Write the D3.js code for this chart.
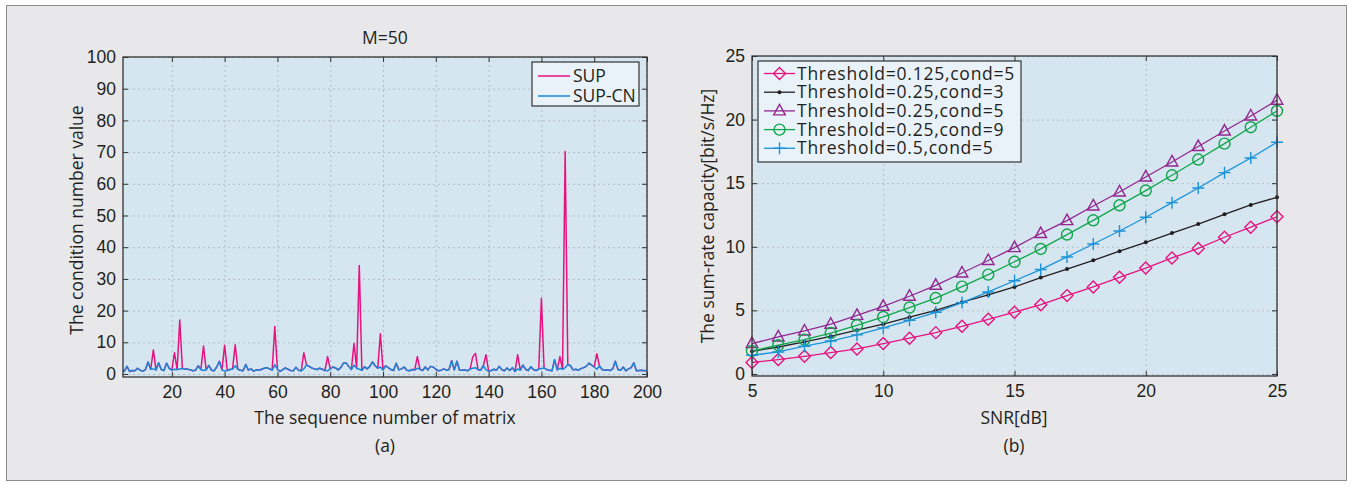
<!DOCTYPE html>
<html>
<head>
<meta charset="utf-8">
<script src="https://cdn.jsdelivr.net/npm/d3@7"></script>
<style>
  body { margin: 0; background: #fff; }
  svg { display: block; font-family: "Open Sans", sans-serif; }
  .tick text { font-size: 17.5px; fill: #231f20; }
  .tick line { stroke: #333; }
  .grid line { stroke: #b4bcc3; stroke-dasharray: 2,3; }
  .grid .domain { display: none; }
  .label { font-size: 17.5px; fill: #231f20; }
  .legend-b { font-size: 17.5px; fill: #231f20; letter-spacing: 0.75px; }
</style>
</head>
<body>
<div id="chart"></div>
<script>
// ---- panel (a): condition number of each matrix, M=50 ----
const supCN = [
  1.2, 0.9, 2.4, 0.8, 1.1, 1.0, 1.8, 1.2, 0.9, 1.4, 3.8, 1.5, 1.6, 1.3, 3.5, 1.4, 1.1, 3.4, 1.8, 1.2,
  1.5, 1.4, 1.6, 1.7, 1.6, 1.5, 1.3, 1.0, 1.2, 2.6, 1.4, 1.1, 1.3, 2.7, 1.2, 1.0, 2.2, 4.0, 1.3, 0.9,
  1.1, 1.4, 1.6, 2.6, 1.5, 1.2, 1.0, 3.0, 1.2, 1.6, 0.9, 1.3, 1.2, 1.5, 1.8, 2.0, 1.6, 1.2, 2.9, 1.5,
  0.8, 1.4, 1.9, 1.5, 1.1, 1.0, 2.1, 1.2, 1.0, 1.6, 2.9, 2.4, 1.9, 1.6, 1.4, 1.8, 1.5, 1.1, 1.0, 1.6,
  2.2, 1.9, 1.3, 2.0, 3.4, 3.5, 2.4, 1.4, 2.8, 1.8, 1.5, 1.2, 2.3, 1.6, 2.4, 3.8, 2.6, 1.8, 2.2, 1.3,
  2.6, 2.0, 1.4, 1.1, 3.4, 1.3, 1.6, 2.2, 1.2, 1.0, 1.4, 1.3, 1.8, 1.5, 1.1, 2.2, 1.3, 2.4, 2.2, 1.5,
  1.0, 1.2, 1.6, 1.2, 1.4, 4.2, 1.3, 4.0, 1.2, 1.2, 1.3, 1.0, 1.6, 1.8, 2.0, 1.4, 1.2, 2.6, 1.3, 0.9,
  1.1, 1.5, 1.2, 2.4, 1.4, 1.0, 1.9, 1.1, 2.0, 0.8, 1.6, 1.2, 2.8, 1.5, 1.1, 2.3, 1.4, 1.1, 1.6, 1.7,
  1.9, 1.4, 1.2, 1.0, 4.5, 1.3, 1.8, 1.5, 2.0, 3.0, 2.6, 1.3, 1.5, 1.2, 1.7, 2.0, 2.4, 3.4, 2.8, 2.2,
  1.5, 2.5, 1.4, 1.2, 1.3, 1.1, 1.6, 4.0, 1.4, 1.2, 2.2, 1.0, 1.6, 2.0, 3.5, 1.0, 1.1, 1.2, 1.0, 1.1
];
const sup = [
  1.2, 0.9, 2.4, 0.8, 1.1, 1.0, 1.8, 1.2, 0.9, 1.4, 3.8, 1.5, 7.6, 1.3, 3.5, 1.4, 1.1, 3.4, 1.8, 1.2,
  6.7, 1.4, 17.0, 1.7, 1.6, 1.5, 1.3, 1.0, 1.2, 2.6, 1.4, 8.8, 1.3, 2.7, 1.2, 1.0, 2.2, 4.0, 1.3, 9.1,
  1.1, 1.4, 1.6, 9.2, 1.5, 1.2, 1.0, 3.0, 1.2, 1.6, 0.9, 1.3, 1.2, 1.5, 1.8, 2.0, 1.6, 1.2, 15.0, 1.5,
  0.8, 1.4, 1.9, 1.5, 1.1, 1.0, 2.1, 1.2, 1.0, 6.7, 2.9, 2.4, 1.9, 1.6, 1.4, 1.8, 1.5, 1.1, 5.5, 1.6,
  2.2, 1.9, 1.3, 2.0, 3.4, 3.5, 2.4, 1.4, 9.6, 1.8, 34.2, 1.2, 2.3, 1.6, 2.4, 3.8, 2.6, 1.8, 12.7, 1.3,
  2.6, 2.0, 1.4, 1.1, 3.4, 1.3, 1.6, 2.2, 1.2, 1.0, 1.4, 1.3, 5.5, 1.5, 1.1, 2.2, 1.3, 2.4, 2.2, 1.5,
  1.0, 1.2, 1.6, 1.2, 1.4, 4.2, 1.3, 4.0, 1.2, 1.2, 1.3, 1.0, 1.6, 5.4, 6.5, 1.4, 1.2, 2.6, 6.1, 0.9,
  1.1, 1.5, 1.2, 2.4, 1.4, 1.0, 1.9, 1.1, 2.0, 0.8, 6.1, 1.2, 2.8, 1.5, 1.1, 2.3, 1.4, 1.1, 1.6, 23.9,
  1.9, 1.4, 1.2, 1.0, 4.5, 1.3, 5.5, 1.5, 70.2, 3.0, 2.6, 1.3, 1.5, 1.2, 1.7, 2.0, 2.4, 3.4, 2.8, 2.2,
  6.4, 2.5, 1.4, 1.2, 1.3, 1.1, 1.6, 4.0, 1.4, 1.2, 2.2, 1.0, 1.6, 2.0, 3.5, 1.0, 1.1, 1.2, 1.0, 1.1
];
const seqTicks = [20, 40, 60, 80, 100, 120, 140, 160, 180, 200];
const condTicks = [0, 10, 20, 30, 40, 50, 60, 70, 80, 90, 100];
const seriesA = [
  { name: "SUP", values: sup, color: "#e6137f" },
  { name: "SUP-CN", values: supCN, color: "#1a86d8" }
];

// ---- panel (b): sum-rate capacity vs SNR ----
const snr = [5, 6, 7, 8, 9, 10, 11, 12, 13, 14, 15, 16, 17, 18, 19, 20, 21, 22, 23, 24, 25];
const thr0125c5 = [0.90, 1.13, 1.39, 1.68, 1.97, 2.39, 2.81, 3.25, 3.75, 4.30, 4.86, 5.45, 6.16, 6.84, 7.60, 8.33, 9.12, 9.87, 10.75, 11.54, 12.36];
const thr025c3 = [1.78, 2.12, 2.52, 2.96, 3.44, 3.91, 4.46, 5.00, 5.64, 6.21, 6.84, 7.58, 8.25, 8.94, 9.65, 10.35, 11.08, 11.79, 12.55, 13.29, 13.89];
const thr025c5 = [2.39, 2.91, 3.38, 3.91, 4.61, 5.32, 6.11, 6.97, 7.94, 8.92, 9.93, 11.04, 12.06, 13.21, 14.31, 15.49, 16.67, 17.88, 19.10, 20.28, 21.52];
const thr025c9 = [1.81, 2.26, 2.70, 3.22, 3.83, 4.48, 5.22, 5.97, 6.87, 7.81, 8.82, 9.83, 10.96, 12.08, 13.26, 14.42, 15.62, 16.86, 18.11, 19.40, 20.68];
const thr05c5 = [1.47, 1.73, 2.18, 2.59, 3.07, 3.62, 4.22, 4.85, 5.61, 6.45, 7.33, 8.21, 9.20, 10.22, 11.24, 12.32, 13.47, 14.62, 15.83, 16.98, 18.22];
const snrTicks = [5, 10, 15, 20, 25];
const rateTicks = [0, 5, 10, 15, 20, 25];
const seriesB = [
  { name: "Threshold=0.125,cond=5", values: thr0125c5, color: "#e6137f", marker: "diamond" },
  { name: "Threshold=0.25,cond=3", values: thr025c3, color: "#231f20", marker: "dot" },
  { name: "Threshold=0.25,cond=5", values: thr025c5, color: "#93278f", marker: "triangle" },
  { name: "Threshold=0.25,cond=9", values: thr025c9, color: "#10a54a", marker: "circle" },
  { name: "Threshold=0.5,cond=5", values: thr05c5, color: "#1b93d8", marker: "plus" }
];

const width = 1357, height = 485;
const svg = d3.select("#chart").append("svg")
  .attr("width", width)
  .attr("height", height);

svg.append("rect")
  .attr("x", 6.5).attr("y", 5.5)
  .attr("width", 1340).attr("height", 475)
  .attr("fill", "#e8e8ea")
  .attr("stroke", "#8c8c8c");

function drawFrame(x, y, xTicks, yTicks) {
  const [x0, x1] = x.range();
  const [y0, y1] = y.range();

  svg.append("rect")
    .attr("x", x0).attr("y", y1)
    .attr("width", x1 - x0).attr("height", y0 - y1)
    .attr("fill", "#d6e6f1");

  svg.append("g")
    .attr("class", "grid")
    .attr("transform", `translate(0,${y0})`)
    .call(d3.axisBottom(x).tickValues(xTicks).tickSize(-(y0 - y1)).tickFormat(""));
  svg.append("g")
    .attr("class", "grid")
    .attr("transform", `translate(${x0},0)`)
    .call(d3.axisLeft(y).tickValues(yTicks).tickSize(-(x1 - x0)).tickFormat(""));
}

function drawAxes(x, y, xTicks, yTicks, xPad, yPad) {
  const [x0, x1] = x.range();
  const [y0, y1] = y.range();

  svg.append("g")
    .attr("transform", `translate(0,${y0})`)
    .call(d3.axisBottom(x).tickValues(xTicks).tickSizeInner(-5).tickSizeOuter(0).tickPadding(xPad))
    .call(g => g.select(".domain").remove());
  svg.append("g")
    .attr("transform", `translate(0,${y1})`)
    .call(d3.axisTop(x).tickValues(xTicks).tickSizeInner(-5).tickSizeOuter(0).tickFormat(""))
    .call(g => g.select(".domain").remove());
  svg.append("g")
    .attr("transform", `translate(${x0},0)`)
    .call(d3.axisLeft(y).tickValues(yTicks).tickSizeInner(-5).tickSizeOuter(0).tickPadding(yPad))
    .call(g => g.select(".domain").remove());
  svg.append("g")
    .attr("transform", `translate(${x1},0)`)
    .call(d3.axisRight(y).tickValues(yTicks).tickSizeInner(-5).tickSizeOuter(0).tickFormat(""))
    .call(g => g.select(".domain").remove());

  svg.selectAll(".tick text").attr("font-size", null);

  svg.append("rect")
    .attr("x", x0).attr("y", y1)
    .attr("width", x1 - x0).attr("height", y0 - y1)
    .attr("fill", "none")
    .attr("stroke", "#333")
    .attr("stroke-width", 1.3);
}

function markerPath(type) {
  if (type === "diamond") return "M0,-6L6,0L0,6L-6,0Z";
  if (type === "triangle") return "M0,-6.5L5.8,4L-5.8,4Z";
  if (type === "plus") return "M-6,0H6M0,-6V6";
  return null;
}

function drawMarker(g, type, color) {
  if (type === "circle") {
    g.append("circle").attr("r", 5.5).attr("fill", "none").attr("stroke", color).attr("stroke-width", 1.4);
  } else if (type === "dot") {
    g.append("circle").attr("r", 2).attr("fill", color);
  } else {
    g.append("path").attr("d", markerPath(type)).attr("fill", "none").attr("stroke", color).attr("stroke-width", 1.4);
  }
}

// ---------- panel (a) ----------
const xa = d3.scaleLinear().domain([1.5, 200]).range([123, 647]);
const ya = d3.scaleLinear().domain([-0.95, 100]).range([377, 57]);

drawFrame(xa, ya, seqTicks, condTicks);

svg.append("clipPath").attr("id", "clipA")
  .append("rect").attr("x", 123).attr("y", 57).attr("width", 524).attr("height", 320);

const lineA = d3.line()
  .x((d, i) => xa(i + 1))
  .y(d => ya(d));

svg.append("g").attr("clip-path", "url(#clipA)")
  .selectAll("path")
  .data(seriesA)
  .enter()
  .append("path")
  .attr("fill", "none")
  .attr("stroke", d => d.color)
  .attr("stroke-width", 1.5)
  .attr("stroke-linejoin", "round")
  .attr("d", d => lineA(d.values));

drawAxes(xa, ya, seqTicks, condTicks, 9, 7);

svg.append("text").attr("class", "label")
  .attr("x", 385).attr("y", 44).attr("text-anchor", "middle").text("M=50");
svg.append("text").attr("class", "label")
  .attr("x", 385).attr("y", 424).attr("text-anchor", "middle").text("The sequence number of matrix");
svg.append("text").attr("class", "label")
  .attr("x", 385).attr("y", 452).attr("text-anchor", "middle").text("(a)");
svg.append("text").attr("class", "label")
  .attr("transform", "rotate(-90)")
  .attr("x", -220).attr("y", 83).attr("text-anchor", "middle").text("The condition number value");

const legendA = svg.append("g");
legendA.append("rect")
  .attr("x", 532).attr("y", 62).attr("width", 107).attr("height", 44)
  .attr("fill", "#eaf2f9").attr("stroke", "#333").attr("stroke-width", 1.2);
seriesA.forEach((s, i) => {
  const yy = 76 + i * 20;
  legendA.append("line")
    .attr("x1", 538).attr("x2", 570).attr("y1", yy).attr("y2", yy)
    .attr("stroke", s.color).attr("stroke-width", 1.5);
  legendA.append("text").attr("class", "label")
    .attr("x", 573).attr("y", yy + 6).text(s.name);
});

// ---------- panel (b) ----------
const xb = d3.scaleLinear().domain([5, 25]).range([752, 1277]);
const yb = d3.scaleLinear().domain([-0.16, 25]).range([376, 56]);

drawFrame(xb, yb, snrTicks, rateTicks);

const lineB = d3.line()
  .x((d, i) => xb(snr[i]))
  .y(d => yb(d));

seriesB.forEach(s => {
  svg.append("path")
    .attr("fill", "none")
    .attr("stroke", s.color)
    .attr("stroke-width", 1.3)
    .attr("d", lineB(s.values));
  s.values.forEach((v, i) => {
    const g = svg.append("g").attr("transform", `translate(${xb(snr[i])},${yb(v)})`);
    drawMarker(g, s.marker, s.color);
  });
});

drawAxes(xb, yb, snrTicks, rateTicks, 9, 7);

svg.append("text").attr("class", "label")
  .attr("x", 1014).attr("y", 424).attr("text-anchor", "middle").text("SNR[dB]");
svg.append("text").attr("class", "label")
  .attr("x", 1014).attr("y", 452).attr("text-anchor", "middle").text("(b)");
svg.append("text").attr("class", "label")
  .attr("transform", "rotate(-90)")
  .attr("x", -216).attr("y", 714).attr("text-anchor", "middle").text("The sum-rate capacity[bit/s/Hz]");

const legendB = svg.append("g");
legendB.append("rect")
  .attr("x", 758).attr("y", 61).attr("width", 263).attr("height", 101)
  .attr("fill", "#eaf2f9").attr("stroke", "#333").attr("stroke-width", 1.2);
seriesB.forEach((s, i) => {
  const yy = 73.5 + i * 18.7;
  legendB.append("line")
    .attr("x1", 764).attr("x2", 795).attr("y1", yy).attr("y2", yy)
    .attr("stroke", s.color).attr("stroke-width", 1.3);
  drawMarker(legendB.append("g").attr("transform", `translate(779.5,${yy})`), s.marker, s.color);
  legendB.append("text").attr("class", "legend-b")
    .attr("x", 797).attr("y", yy + 6).text(s.name);
});
</script>
</body>
</html>
